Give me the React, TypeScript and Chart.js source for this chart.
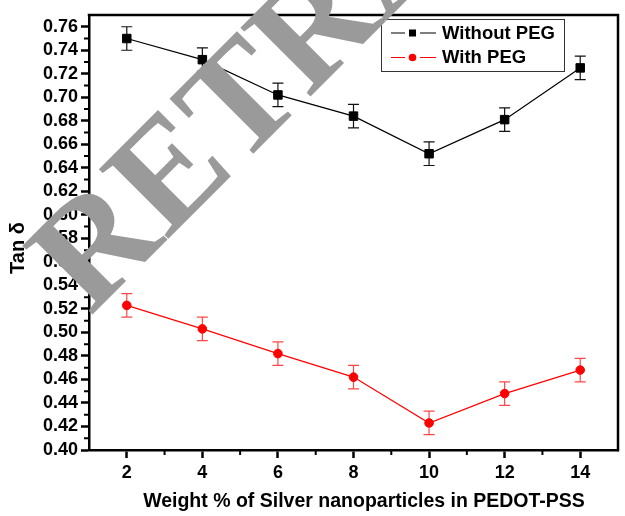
import { useEffect, useRef } from "react";
import { Chart, registerables } from "chart.js";

Chart.register(...registerables);

// Silver nanoparticle loading (wt %) in PEDOT-PSS
const loadings = [2, 4, 6, 8, 10, 12, 14];
// Loss tangent, films without and with PEG
const tanDeltaWithoutPeg = [0.75, 0.732, 0.702, 0.684, 0.652, 0.681, 0.725];
const tanDeltaWithPeg = [0.523, 0.503, 0.482, 0.462, 0.423, 0.448, 0.468];
// Error bar half-heights
const errorWithoutPeg = [0.01, 0.01, 0.01, 0.01, 0.01, 0.01, 0.01];
const errorWithPeg = [0.01, 0.01, 0.01, 0.01, 0.01, 0.01, 0.01];

const seriesLabels = ["Without PEG", "With PEG"];
const seriesColors = ["#000000", "#ff0000"];
const errorColors = ["#111111", "rgba(255,40,40,0.85)"];

const xTickValues = [2, 4, 6, 8, 10, 12, 14];
const xMinorTickValues = [3, 5, 7, 9, 11, 13];
const yTickValues = [
  0.4, 0.42, 0.44, 0.46, 0.48, 0.5, 0.52, 0.54, 0.56, 0.58, 0.6, 0.62, 0.64,
  0.66, 0.68, 0.7, 0.72, 0.74, 0.76,
];
const yMinorTickValues = [
  0.41, 0.43, 0.45, 0.47, 0.49, 0.51, 0.53, 0.55, 0.57, 0.59, 0.61, 0.63, 0.65,
  0.67, 0.69, 0.71, 0.73, 0.75,
];

const xTitle = "Weight % of Silver nanoparticles in PEDOT-PSS";
const yTitle = "Tan \u03b4";
const stampText = "RETRACTED";

const SANS = "Arial, 'Liberation Sans', Helvetica, sans-serif";
const SERIF = "'Times New Roman', 'Liberation Serif', serif";

const errorBarsPlugin = {
  id: "errorBars",
  beforeDatasetsDraw(chart: any) {
    const { ctx, scales } = chart;
    const errs = [errorWithoutPeg, errorWithPeg];
    const vals = [tanDeltaWithoutPeg, tanDeltaWithPeg];
    ctx.save();
    ctx.lineWidth = 1.2;
    vals.forEach((series, si) => {
      ctx.strokeStyle = errorColors[si];
      series.forEach((v, i) => {
        const x = scales.x.getPixelForValue(loadings[i]);
        const yTop = scales.y.getPixelForValue(v + errs[si][i]);
        const yBot = scales.y.getPixelForValue(v - errs[si][i]);
        const cap = 5.5;
        ctx.beginPath();
        ctx.moveTo(x, yTop);
        ctx.lineTo(x, yBot);
        ctx.moveTo(x - cap, yTop);
        ctx.lineTo(x + cap, yTop);
        ctx.moveTo(x - cap, yBot);
        ctx.lineTo(x + cap, yBot);
        ctx.stroke();
      });
    });
    ctx.restore();
  },
};

const decorPlugin = {
  id: "decor",
  afterDraw(chart: any) {
    const { ctx, chartArea, scales } = chart;
    const { left, right, top, bottom } = chartArea;
    ctx.save();

    // frame on top and right
    ctx.strokeStyle = "#000";
    ctx.lineWidth = 2.5;
    ctx.beginPath();
    ctx.moveTo(left - 1.25, top);
    ctx.lineTo(right, top);
    ctx.lineTo(right, bottom + 1.25);
    ctx.stroke();

    // minor ticks
    ctx.lineWidth = 2;
    ctx.beginPath();
    xMinorTickValues.forEach((v) => {
      const x = scales.x.getPixelForValue(v);
      ctx.moveTo(x, bottom);
      ctx.lineTo(x, bottom + 5);
    });
    yMinorTickValues.forEach((v) => {
      const y = scales.y.getPixelForValue(v);
      ctx.moveTo(left, y);
      ctx.lineTo(left - 5, y);
    });
    ctx.stroke();

    // legend
    const bx = 381;
    const by = 19;
    const bw = 183;
    const bh = 52;
    ctx.fillStyle = "#fff";
    ctx.fillRect(bx, by, bw, bh);
    ctx.strokeStyle = "#333";
    ctx.lineWidth = 1;
    ctx.strokeRect(bx + 0.5, by + 0.5, bw, bh);
    const rows = [33, 57.5];
    rows.forEach((ry, i) => {
      ctx.strokeStyle = seriesColors[i];
      ctx.lineWidth = 1.2;
      ctx.beginPath();
      ctx.moveTo(391, ry);
      ctx.lineTo(405, ry);
      ctx.moveTo(420, ry);
      ctx.lineTo(436, ry);
      ctx.stroke();
      ctx.fillStyle = seriesColors[i];
      if (i === 0) {
        ctx.fillRect(409, ry - 3.5, 7, 7);
      } else {
        ctx.beginPath();
        ctx.arc(412.5, ry, 3.8, 0, Math.PI * 2);
        ctx.fill();
      }
      ctx.fillStyle = "#000";
      ctx.font = `bold 18.5px ${SANS}`;
      ctx.textAlign = "left";
      ctx.textBaseline = "middle";
      ctx.fillText(seriesLabels[i], 442, ry + 0.5);
    });

    // axis titles
    ctx.fillStyle = "#000";
    ctx.font = `bold 19.5px ${SANS}`;
    ctx.textAlign = "center";
    ctx.textBaseline = "alphabetic";
    ctx.fillText(xTitle, 364, 507);

    ctx.save();
    ctx.translate(24, 248);
    ctx.rotate(-Math.PI / 2);
    ctx.font = `bold 20px ${SANS}`;
    ctx.fillText(yTitle, 0, 0);
    ctx.restore();

    // diagonal stamp
    ctx.save();
    ctx.translate(90, 317);
    ctx.rotate(-Math.PI / 4);
    ctx.font = `bold 150px ${SERIF}`;
    ctx.fillStyle = "#9a9a9a";
    ctx.textAlign = "left";
    ctx.textBaseline = "alphabetic";
    ctx.fillText(stampText, 0, 0);
    ctx.restore();

    ctx.restore();
  },
};

export default function App() {
  const canvasRef = useRef<HTMLCanvasElement>(null);

  useEffect(() => {
    const canvas = canvasRef.current;
    if (!canvas) return;

    const tickFont = { family: SANS, size: 18, weight: "bold" as const };

    const chart = new Chart(canvas, {
      type: "line",
      data: {
        datasets: [
          {
            label: seriesLabels[0],
            data: loadings.map((x, i) => ({ x, y: tanDeltaWithoutPeg[i] })),
            borderColor: seriesColors[0],
            backgroundColor: seriesColors[0],
            borderWidth: 1.2,
            pointStyle: "rect",
            pointRadius: 6,
            pointBorderWidth: 1,
            pointBackgroundColor: seriesColors[0],
            pointBorderColor: seriesColors[0],
            tension: 0,
          },
          {
            label: seriesLabels[1],
            data: loadings.map((x, i) => ({ x, y: tanDeltaWithPeg[i] })),
            borderColor: seriesColors[1],
            backgroundColor: seriesColors[1],
            borderWidth: 1.2,
            pointStyle: "circle",
            pointRadius: 4.3,
            pointBorderWidth: 1,
            pointBackgroundColor: seriesColors[1],
            pointBorderColor: seriesColors[1],
            tension: 0,
          },
        ],
      },
      options: {
        animation: false,
        responsive: false,
        devicePixelRatio: 1,
        layout: { padding: { top: 15, right: 2, left: 0, bottom: 0 } },
        plugins: {
          legend: { display: false },
          tooltip: { enabled: false },
        },
        scales: {
          x: {
            type: "linear",
            min: 1,
            max: 15,
            afterBuildTicks: (s: any) => {
              s.ticks = xTickValues.map((value) => ({ value }));
            },
            afterFit: (s: any) => {
              s.height = 66;
            },
            grid: {
              drawOnChartArea: false,
              drawTicks: true,
              tickLength: 8,
              tickWidth: 2.5,
              tickColor: "#000",
            },
            border: { display: true, color: "#000", width: 2.5 },
            ticks: {
              color: "#000",
              font: tickFont,
              padding: 4,
              autoSkip: false,
              maxRotation: 0,
              callback: (v: any) => String(v),
            },
          },
          y: {
            type: "linear",
            min: 0.4,
            max: 0.77,
            afterBuildTicks: (s: any) => {
              s.ticks = yTickValues.map((value) => ({ value }));
            },
            afterFit: (s: any) => {
              s.width = 89;
            },
            grid: {
              drawOnChartArea: false,
              drawTicks: true,
              tickLength: 8,
              tickWidth: 2.5,
              tickColor: "#000",
            },
            border: { display: true, color: "#000", width: 2.5 },
            ticks: {
              color: "#000",
              font: tickFont,
              padding: 3,
              autoSkip: false,
              callback: (v: any) => Number(v).toFixed(2),
            },
          },
        },
      },
      plugins: [errorBarsPlugin, decorPlugin],
    });

    return () => chart.destroy();
  }, []);

  return (
    <div
      style={{
        position: "fixed",
        left: 0,
        top: 0,
        width: 625,
        height: 516,
        background: "#fff",
      }}
    >
      <canvas
        ref={canvasRef}
        width={625}
        height={516}
        style={{ display: "block", width: 625, height: 516 }}
      />
    </div>
  );
}
